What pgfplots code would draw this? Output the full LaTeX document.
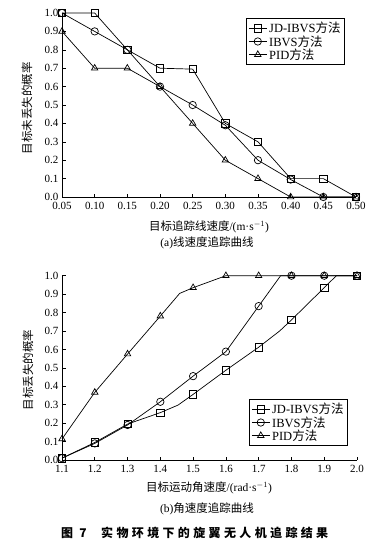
\documentclass[border=0pt]{standalone}
\usepackage{fontspec}
\setmainfont{Liberation Serif}
\newfontfamily\cjk{Noto Sans CJK SC}
\newfontfamily\cjkt[LetterSpace=28]{Noto Sans CJK SC}
\usepackage{pgfplots}
\pgfplotsset{compat=1.18}
\pgfplotsset{myax/.style={
  scale only axis, axis lines=left, axis line style={-, line width=0.8pt, black},
  tick align=inside, major tick length=3.5pt, tick style={black, line width=0.6pt},
  ymin=0, ymax=1, ytick={0,0.1,0.2,0.3,0.4,0.5,0.6,0.7,0.8,0.9,1.0},
  yticklabel style={/pgf/number format/.cd, fixed, fixed zerofill, precision=1, assume math mode=true},
  xticklabel style={/pgf/number format/assume math mode=true, yshift=-2pt},
  tick label style={font=\fontsize{11}{12}\selectfont},
  clip=false,
  legend style={draw=black, line width=0.8pt, font=\fontsize{12.5}{13}\selectfont, inner sep=2pt, row sep=-3pt, legend cell align=left},
  legend image code/.code={\draw[mark indices={2}] plot coordinates {(0pt,0pt) (9pt,0pt) (18pt,0pt)};},
}}
\pgfplotsset{ln/.style={black, line width=0.7pt, mark size=3.7pt, mark options={fill=white, solid, line width=0.7pt}}}
\begin{document}
\begin{tikzpicture}
\path[use as bounding box] (0pt,0pt) rectangle (376pt,-549pt);
% (a)
\begin{axis}[myax, at={(62pt,-197pt)}, anchor=south west, width=294pt, height=184pt,
  xmin=0.05, xmax=0.50, xtick={0.05,0.10,0.15,0.20,0.25,0.30,0.35,0.40,0.45,0.50},
  xticklabel style={/pgf/number format/.cd, fixed, fixed zerofill, precision=2},
  legend style={at={(0.626,0.973)}, anchor=north west}]
\addplot[ln, mark=square] coordinates {(0.05,1.0) (0.10,1.0) (0.15,0.8) (0.20,0.7) (0.25,0.695) (0.30,0.40) (0.35,0.30) (0.40,0.10) (0.45,0.10) (0.50,0.0)};
\addlegendentry{JD-IBVS{\cjk 方法}}
\addplot[ln, mark=o] coordinates {(0.05,1.0) (0.10,0.9) (0.15,0.8) (0.20,0.6) (0.25,0.5) (0.30,0.39) (0.35,0.2) (0.40,0.095) (0.45,0.0) (0.50,0.0)};
\addlegendentry{IBVS{\cjk 方法}}
\addplot[ln, mark=triangle] coordinates {(0.05,0.9) (0.10,0.7) (0.15,0.7) (0.20,0.6) (0.25,0.4) (0.30,0.2) (0.35,0.1) (0.40,0.0) (0.45,0.0) (0.50,0.0)};
\addlegendentry{PID{\cjk 方法}}
\end{axis}
% (b)
\begin{axis}[myax, at={(62pt,-460pt)}, anchor=south west, width=295pt, height=184.3pt,
  xmin=1.1, xmax=2.0, xtick={1.1,1.2,1.3,1.4,1.5,1.6,1.7,1.8,1.9,2.0},
  xticklabel style={/pgf/number format/.cd, fixed, fixed zerofill, precision=1},
  legend style={at={(0.634,0.331)}, anchor=north west}]
\addplot[ln, mark=square, mark indices={1,2,3,4,6,7,8,10,11,13}] coordinates {(1.1,0.01) (1.2,0.095) (1.3,0.195) (1.4,0.257) (1.454,0.298) (1.5,0.356) (1.6,0.487) (1.7,0.612) (1.764,0.70) (1.8,0.76) (1.9,0.935) (1.937,1.0) (2.0,1.0)};
\addlegendentry{JD-IBVS{\cjk 方法}}
\addplot[ln, mark=o, mark indices={1,2,3,4,5,6,7,9,10,11}] coordinates {(1.1,0.01) (1.2,0.09) (1.3,0.19) (1.4,0.316) (1.5,0.455) (1.6,0.588) (1.7,0.835) (1.767,1.0) (1.8,1.0) (1.9,1.0) (2.0,1.0)};
\addlegendentry{IBVS{\cjk 方法}}
\addplot[ln, mark=triangle, mark indices={1,2,3,4,6,7,8,9,10,11}] coordinates {(1.1,0.114) (1.2,0.367) (1.3,0.575) (1.4,0.781) (1.459,0.904) (1.5,0.935) (1.6,1.0) (1.7,1.0) (1.8,1.0) (1.9,1.0) (2.0,1.0)};
\addlegendentry{PID{\cjk 方法}}
\end{axis}
% labels
\node[rotate=90, font=\fontsize{11.5}{13}\selectfont\cjk] at (27pt,-108pt) {目标未丢失的概率};
\node[rotate=90, font=\fontsize{11.5}{13}\selectfont\cjk] at (28pt,-370pt) {目标丢失的概率};
\node[font=\fontsize{11.5}{13}\selectfont] at (209pt,-227pt) {{\cjk 目标追踪线速度}/(m·s$^{-1}$)};
\node[font=\fontsize{11.5}{13}\selectfont] at (209pt,-488pt) {{\cjk 目标运动角速度}/(rad·s$^{-1}$)};
\node[font=\fontsize{11.5}{13}\selectfont] at (207pt,-243pt) {(a){\cjk 线速度追踪曲线}};
\node[font=\fontsize{11.5}{13}\selectfont] at (207pt,-509pt) {(b){\cjk 角速度追踪曲线}};
\node[font=\fontsize{12}{14}\selectfont\cjkt\bfseries, anchor=west, inner sep=0pt] at (61pt,-533pt) {图 7};
\node[font=\fontsize{12}{14}\selectfont\cjkt\bfseries, anchor=west, inner sep=0pt] at (101pt,-533pt) {实物环境下的旋翼无人机追踪结果};
\end{tikzpicture}
\end{document}
